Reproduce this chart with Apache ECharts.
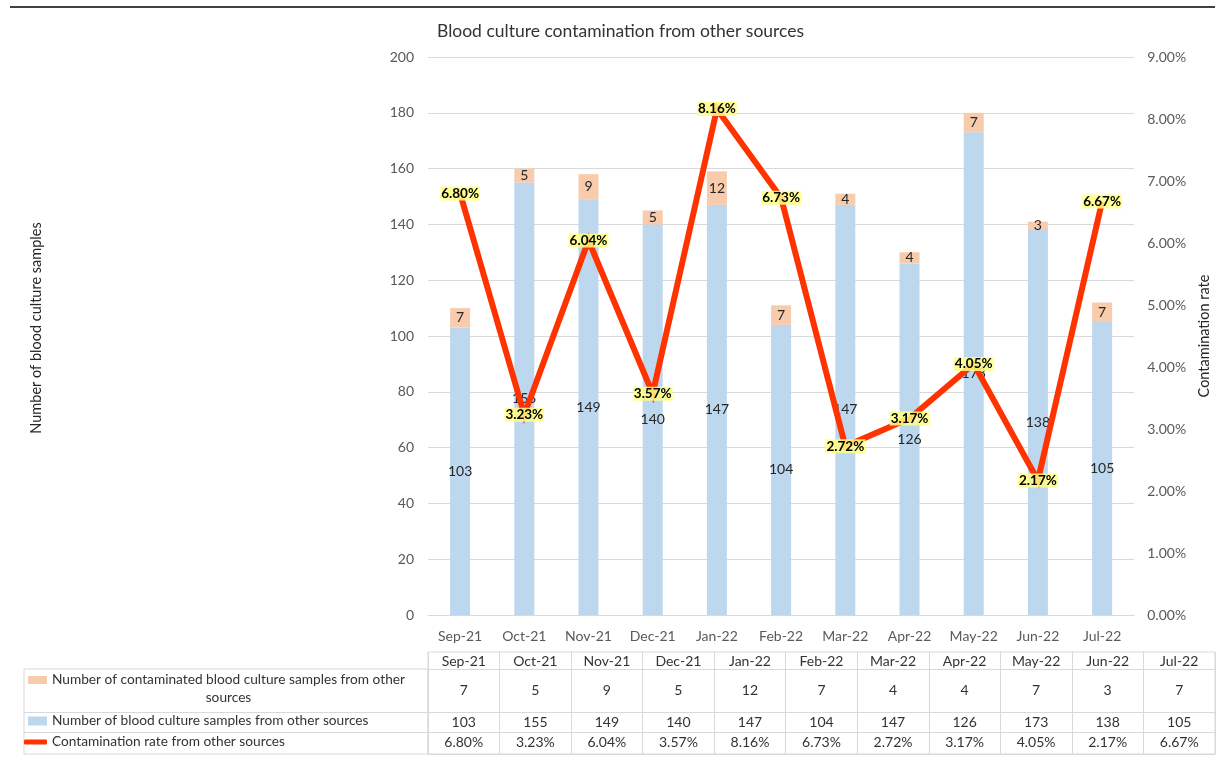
<!DOCTYPE html>
<html>
<head>
<meta charset="utf-8">
<script src="https://cdn.jsdelivr.net/npm/echarts@6/dist/echarts.min.js"></script>
<style>
  html, body { margin: 0; padding: 0; background: #ffffff; }
  #chart { width: 1220px; height: 765px; }
</style>
</head>
<body>
<div id="chart"></div>
<script>
// Monthly blood culture counts and contamination rate (other sources)
const months = ['Sep-21', 'Oct-21', 'Nov-21', 'Dec-21', 'Jan-22', 'Feb-22', 'Mar-22', 'Apr-22', 'May-22', 'Jun-22', 'Jul-22'];
const contaminated = [7, 5, 9, 5, 12, 7, 4, 4, 7, 3, 7];
const samples = [103, 155, 149, 140, 147, 104, 147, 126, 173, 138, 105];
const ratePct = [6.80, 3.23, 6.04, 3.57, 8.16, 6.73, 2.72, 3.17, 4.05, 2.17, 6.67];

const countTicks = { min: 0, max: 200, interval: 20 };
const rateTicks = { min: 0, max: 9, interval: 1 };

const NAME_CONTAM = 'Number of contaminated blood culture samples from other sources';
const NAME_SAMPLES = 'Number of blood culture samples from other sources';
const NAME_RATE = 'Contamination rate from other sources';

const FONT = 'Lato';
const GRID_LINE = '#d9d9d9';
const AXIS_TEXT = '#595959';
const TABLE_TEXT = '#333333';
const C_BLUE = '#bdd7ee';
const C_PEACH = '#f8cbad';
const C_RED = '#ff3300';
const LEGEND_SIZE = 13.7;
const TABLE_SIZE = 14;

const fmtPct = v => v.toFixed(2) + '%';

// Data table below the plot: one category axis per row, drawn in its own grid
const tableRowAxis = (data, offset, margin, extra) => Object.assign({
  gridIndex: 1,
  type: 'category',
  data: data,
  position: 'bottom',
  offset: offset,
  axisLine: { show: true, lineStyle: { color: GRID_LINE, width: 1 } },
  axisTick: { show: false },
  splitLine: { show: false },
  axisLabel: { interval: 0, margin: margin, color: TABLE_TEXT, fontSize: TABLE_SIZE, fontFamily: FONT },
  silent: true
}, extra || {});

// Horizontal rules of the legend column
const ruleAxis = (offset) => ({
  gridIndex: 2,
  type: 'value',
  min: 0, max: 1,
  position: 'bottom',
  offset: offset,
  axisLine: { show: true, lineStyle: { color: GRID_LINE, width: 1 } },
  axisTick: { show: false },
  axisLabel: { show: false },
  splitLine: { show: false },
  silent: true
});

const option = {
  backgroundColor: '#ffffff',
  animation: false,
  title: {
    text: 'Blood culture contamination from other sources',
    left: 437,
    top: 22,
    padding: 0,
    textStyle: { fontFamily: FONT, fontSize: 17.5, fontWeight: 'normal', color: '#333333' }
  },
  graphic: [{
    type: 'line',
    shape: { x1: 10, y1: 7, x2: 1215, y2: 7 },
    style: { stroke: '#000000', lineWidth: 1.5 },
    silent: true
  }],
  legend: [
    {
      data: [{ name: NAME_CONTAM, icon: 'path://M0,0H19V8H0Z M0,26H0.05V26.05H0Z' }],
      left: 28, top: 673, padding: 0,
      itemWidth: 19, itemHeight: 26,
      selectedMode: false,
      formatter: name => {
        const i = name.lastIndexOf(' ');
        return '{a|' + name.slice(0, i) + '}\n{c|' + name.slice(i + 1) + '}';
      },
      textStyle: {
        color: TABLE_TEXT, fontFamily: FONT, fontSize: LEGEND_SIZE,
        rich: {
          a: { fontFamily: FONT, fontSize: LEGEND_SIZE, color: TABLE_TEXT, lineHeight: 18 },
          c: { fontFamily: FONT, fontSize: LEGEND_SIZE, color: TABLE_TEXT, lineHeight: 18, align: 'center' }
        }
      }
    },
    {
      data: [{ name: NAME_SAMPLES, icon: 'rect' }],
      left: 28, top: 714, padding: 0,
      itemWidth: 19, itemHeight: 9,
      selectedMode: false,
      textStyle: { color: TABLE_TEXT, fontFamily: FONT, fontSize: LEGEND_SIZE }
    },
    {
      data: [{ name: NAME_RATE, icon: 'roundRect' }],
      left: 24, top: 735, padding: 0,
      itemWidth: 23, itemHeight: 5,
      selectedMode: false,
      textStyle: { color: TABLE_TEXT, fontFamily: FONT, fontSize: LEGEND_SIZE }
    }
  ],
  grid: [
    { left: 428, right: 78, top: 57, bottom: 150, containLabel: false },
    { left: 428, right: 5, top: 652, bottom: 11, show: true, borderColor: GRID_LINE, borderWidth: 1, containLabel: false },
    { left: 24, width: 404, top: 669, bottom: 11, show: true, borderColor: GRID_LINE, borderWidth: 1, containLabel: false }
  ],
  xAxis: [
    {
      gridIndex: 0,
      type: 'category',
      data: months,
      axisLine: { show: true, lineStyle: { color: GRID_LINE, width: 1 } },
      axisTick: { show: false },
      axisLabel: { interval: 0, margin: 14, color: AXIS_TEXT, fontSize: 14, fontFamily: FONT }
    },
    tableRowAxis(months, -102, 2, {
      splitLine: { show: true, interval: 0, lineStyle: { color: GRID_LINE, width: 1 } }
    }),
    tableRowAxis(contaminated.map(String), -85, 14),
    tableRowAxis(samples.map(String), -42, 3),
    tableRowAxis(ratePct.map(fmtPct), -22, 3),
    ruleAxis(-42),
    ruleAxis(-22)
  ],
  yAxis: [
    {
      gridIndex: 0,
      type: 'value',
      min: countTicks.min, max: countTicks.max, interval: countTicks.interval,
      name: 'Number of blood culture samples',
      nameLocation: 'middle',
      nameGap: 384,
      nameRotate: 90,
      nameTextStyle: { color: '#262626', fontSize: 14.5, fontFamily: FONT, padding: [0, 0, 0, 16] },
      axisLine: { show: false },
      axisTick: { show: false },
      axisLabel: { margin: 14, color: AXIS_TEXT, fontSize: 14, fontFamily: FONT },
      splitLine: { show: true, lineStyle: { color: GRID_LINE, width: 1 } }
    },
    {
      gridIndex: 0,
      type: 'value',
      position: 'right',
      min: rateTicks.min, max: rateTicks.max, interval: rateTicks.interval,
      name: 'Contamination rate',
      nameLocation: 'middle',
      nameGap: 60,
      nameRotate: 90,
      nameTextStyle: { color: '#262626', fontSize: 14.5, fontFamily: FONT },
      axisLine: { show: false },
      axisTick: { show: false },
      axisLabel: { margin: 13, color: AXIS_TEXT, fontSize: 14, fontFamily: FONT, formatter: v => fmtPct(v) },
      splitLine: { show: false }
    },
    { gridIndex: 1, type: 'value', show: false, min: 0, max: 1 },
    { gridIndex: 2, type: 'value', show: false, min: 0, max: 1 }
  ],
  series: [
    {
      name: NAME_SAMPLES,
      type: 'bar',
      stack: 'total',
      xAxisIndex: 0, yAxisIndex: 0,
      barWidth: 20,
      data: samples,
      itemStyle: { color: C_BLUE },
      label: { show: true, position: 'inside', color: '#262626', fontSize: 14, fontFamily: FONT }
    },
    {
      name: NAME_CONTAM,
      type: 'bar',
      stack: 'total',
      xAxisIndex: 0, yAxisIndex: 0,
      barWidth: 20,
      data: contaminated,
      itemStyle: { color: C_PEACH },
      label: { show: true, position: 'inside', color: '#262626', fontSize: 14, fontFamily: FONT }
    },
    {
      name: NAME_RATE,
      type: 'line',
      xAxisIndex: 0, yAxisIndex: 1,
      data: ratePct,
      z: 5,
      symbol: 'circle',
      symbolSize: 1,
      showSymbol: true,
      itemStyle: { color: C_RED },
      lineStyle: { color: C_RED, width: 6, join: 'miter' },
      label: {
        show: true,
        position: 'inside',
        formatter: p => fmtPct(p.value),
        color: '#000000',
        fontSize: 13.5,
        fontWeight: 'bold',
        fontFamily: FONT,
        backgroundColor: 'rgba(255, 255, 130, 0.85)',
        padding: [0, 1, 0, 1]
      }
    }
  ]
};

const chart = echarts.init(document.getElementById('chart'), null, { renderer: 'canvas' });
chart.setOption(option);
</script>
</body>
</html>
